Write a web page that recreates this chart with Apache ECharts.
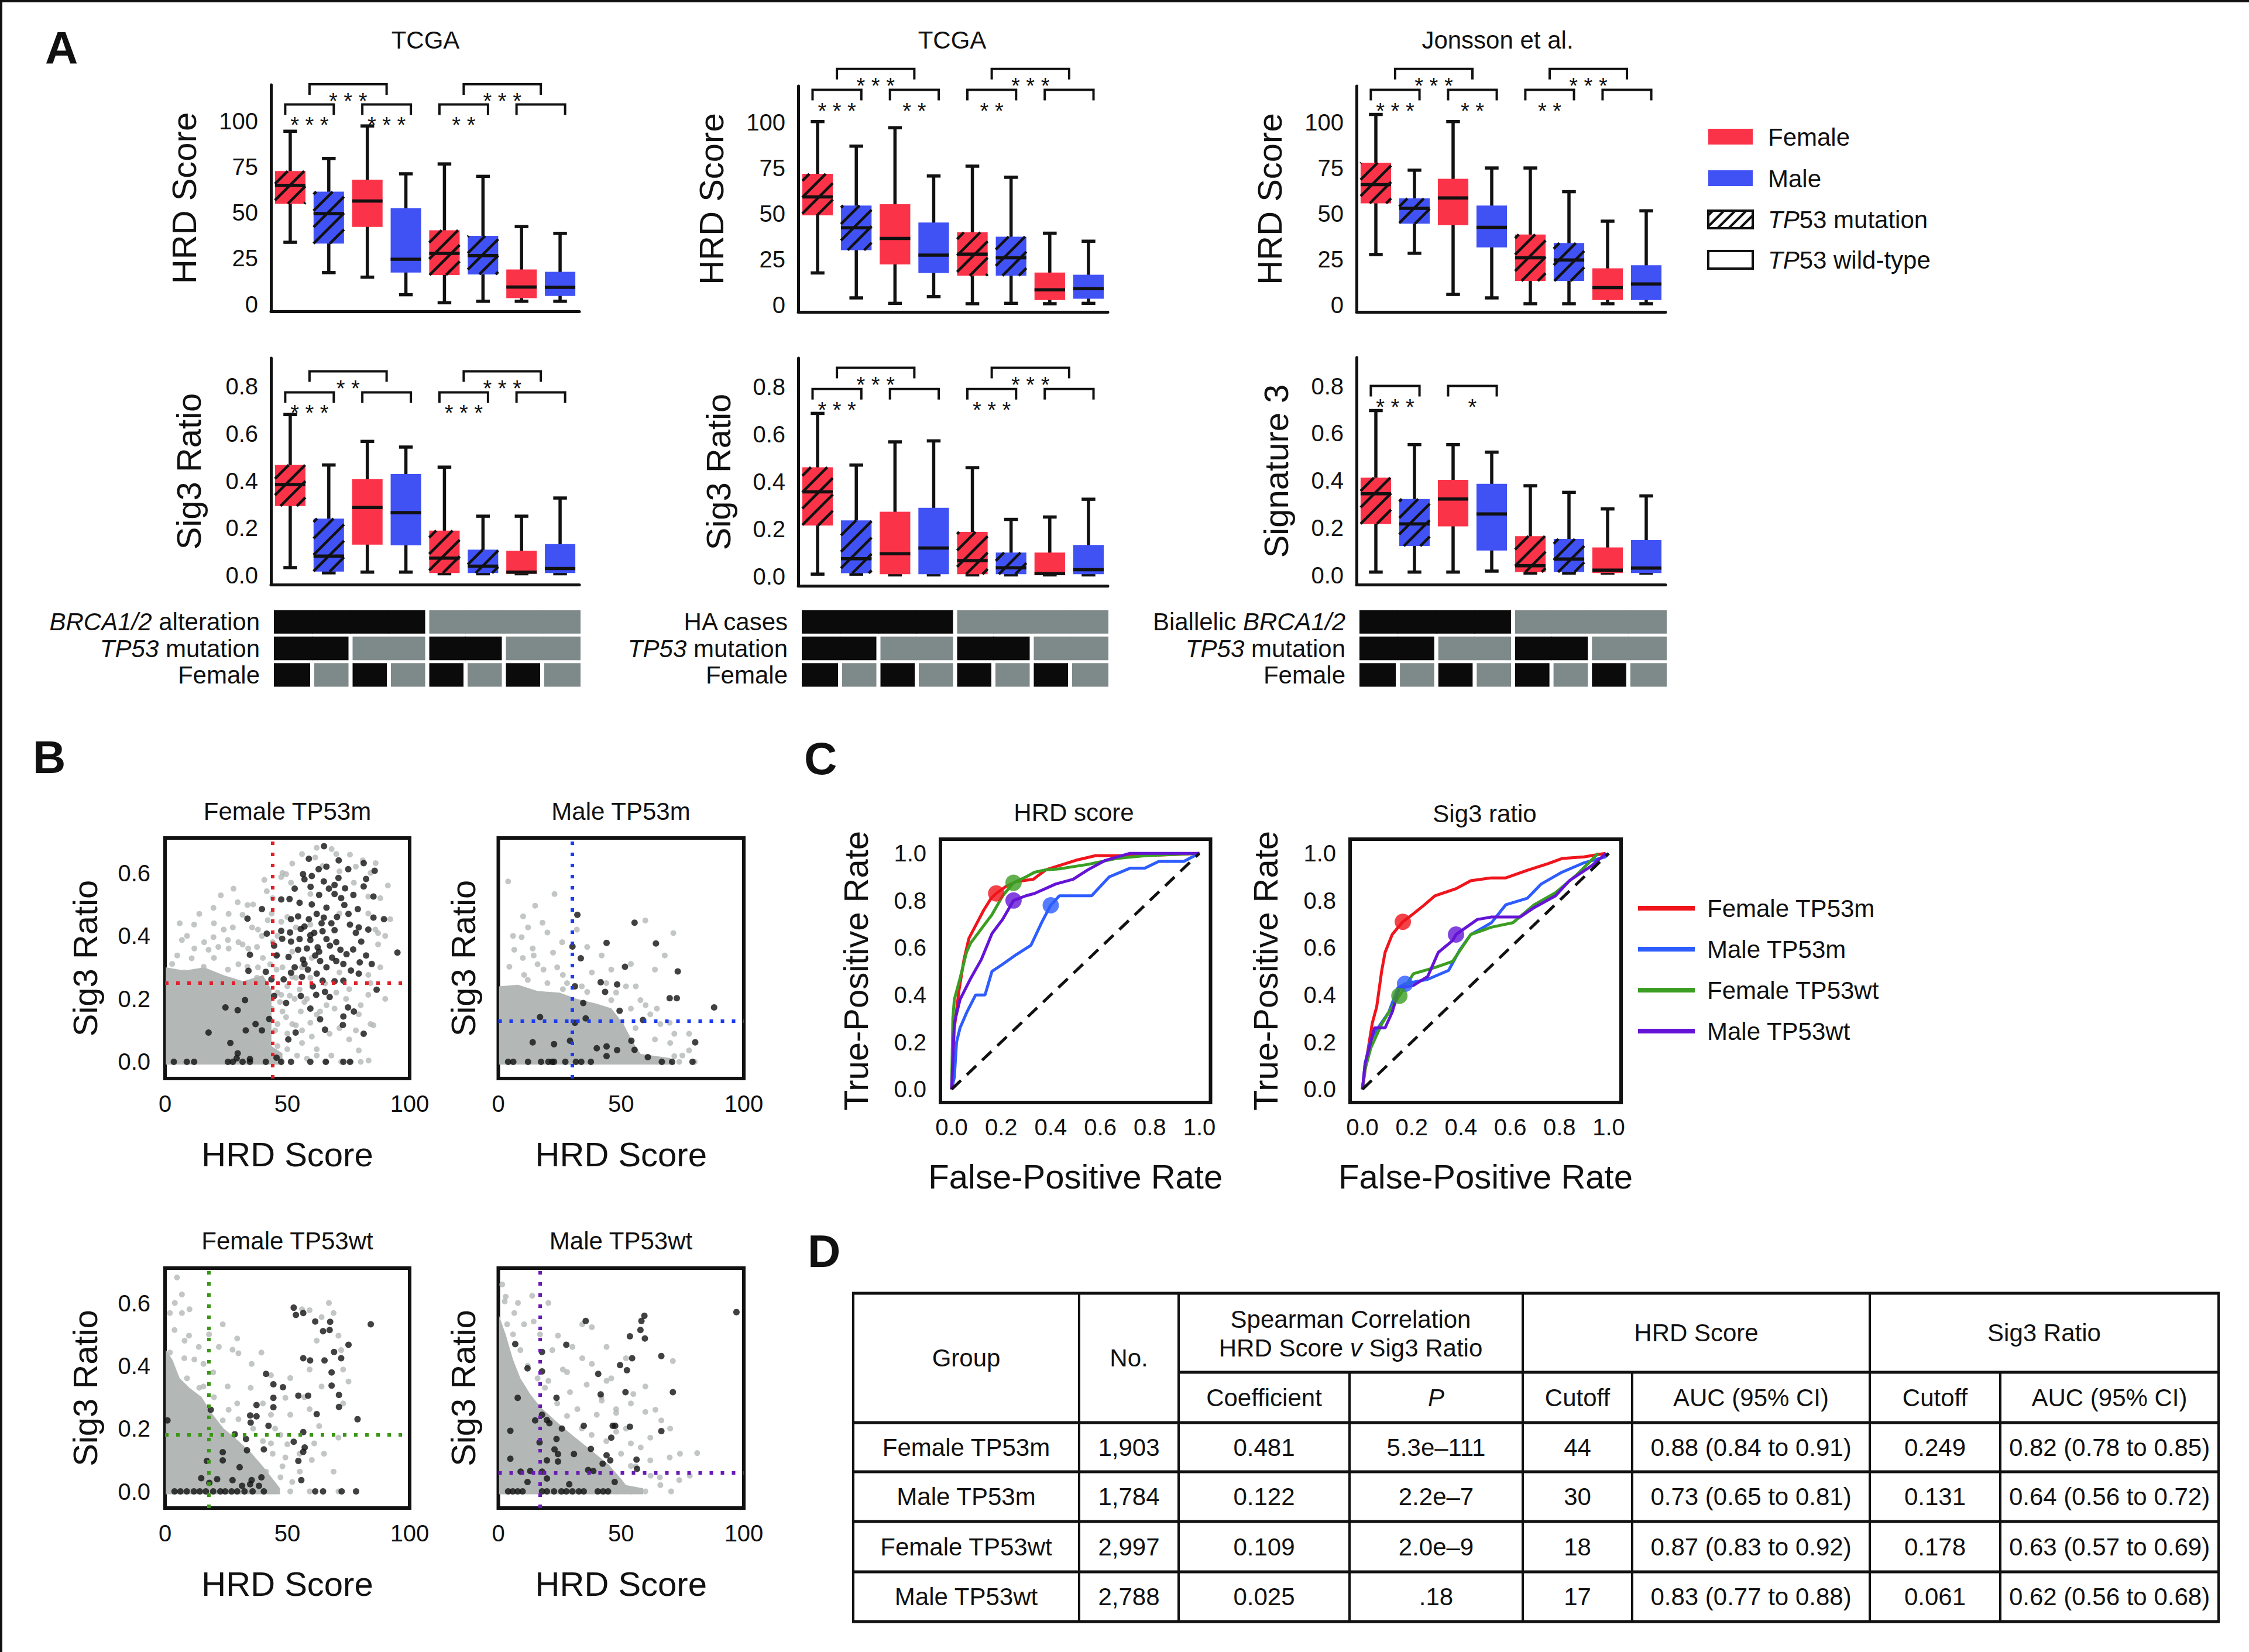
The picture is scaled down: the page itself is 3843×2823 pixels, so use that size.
<!DOCTYPE html>
<html>
<head>
<meta charset="utf-8">
<title>HRD score and Sig3 ratio by sex and TP53 status</title>
<script src="https://cdn.jsdelivr.net/npm/echarts@6.0.0/dist/echarts.min.js"></script>
<style>
html,body{margin:0;padding:0;background:#fff;}
#chart{width:3843px;height:2823px;}
</style>
</head>
<body>
<div id="chart"></div>
<script>
// ======================= DATA =======================
// ---- Panel A: groups (BRCA status x TP53 status x sex)
const boxCategories = ['BRCA+/TP53m/F','BRCA+/TP53m/M','BRCA+/TP53wt/F','BRCA+/TP53wt/M','BRCA-/TP53m/F','BRCA-/TP53m/M','BRCA-/TP53wt/F','BRCA-/TP53wt/M'];
const boxSex = ['F','M','F','M','F','M','F','M'];
const boxTP53 = ['m','m','wt','wt','m','m','wt','wt'];
// box stats: [lower whisker, Q1, median, Q3, upper whisker]
const tcgaHrdBoxes = [[33.8,54.9,65.0,72.8,94.6],[17.2,33.1,49.5,61.5,79.7],[14.7,42.2,56.4,68.1,97.5],[5.1,17.2,24.5,52.5,71.3],[0.7,15.9,27.7,40.4,76.7],[1.5,16.2,26.5,37.3,69.9],[1.5,3.2,9.3,18.9,42.4],[1.5,4.4,9.1,17.6,38.7]];
const tcgaSig3Boxes = [[0.032,0.293,0.384,0.467,0.681],[0.010,0.015,0.081,0.240,0.467],[0.013,0.129,0.287,0.407,0.567],[0.013,0.127,0.265,0.429,0.543],[0.006,0.009,0.072,0.189,0.458],[0.006,0.009,0.038,0.108,0.250],[0.006,0.006,0.013,0.104,0.250],[0.006,0.009,0.028,0.132,0.327]];
const haHrdBoxes = [[17.4,49.0,59.1,71.8,100.5],[3.7,29.9,42.2,54.4,87.0],[0.7,22.1,36.3,55.1,97.1],[4.4,17.4,27.2,45.1,70.6],[0.5,15.9,27.7,39.7,76.0],[0.7,15.9,25.7,37.3,69.9],[0.5,2.5,8.1,17.6,39.2],[0.7,3.2,8.8,16.4,34.8]];
const haSig3Boxes = [[0.009,0.214,0.356,0.460,0.687],[0.009,0.013,0.074,0.236,0.469],[0.006,0.009,0.095,0.272,0.567],[0.006,0.009,0.119,0.289,0.571],[0.006,0.009,0.066,0.187,0.458],[0.006,0.009,0.036,0.100,0.240],[0.006,0.006,0.011,0.100,0.250],[0.006,0.009,0.028,0.132,0.325]];
const jonHrdBoxes = [[27.5,55.6,65.9,77.9,104.4],[28.2,44.4,52.9,58.3,73.8],[5.6,43.6,58.6,69.1,100.5],[3.7,31.4,42.4,54.4,75.0],[0.5,13.0,25.7,38.5,75.0],[0.5,13.0,24.5,33.8,62.0],[0.5,2.5,9.3,19.9,45.8],[0.5,2.5,11.3,21.6,51.5]];
const jonSig3Boxes = [[0.013,0.217,0.344,0.412,0.696],[0.013,0.123,0.217,0.322,0.552],[0.013,0.206,0.322,0.403,0.552],[0.017,0.104,0.259,0.386,0.520],[0.009,0.013,0.040,0.165,0.378],[0.009,0.013,0.068,0.153,0.350],[0.009,0.009,0.021,0.117,0.280],[0.009,0.009,0.030,0.148,0.335]];
// significance brackets: [left, right (category units), top value]
const tcgaHrdBrackets = [[-0.13,1.13,109.3],[1.87,3.13,109.3],[0.5,2.5,120.3],[3.87,5.13,109.3],[4.5,6.5,120.3],[5.87,7.13,109.3]];
const tcgaHrdStars = ['***','***','***','**','***',''];
const tcgaSig3Brackets = [[-0.13,1.13,0.775],[1.87,3.13,0.775],[0.5,2.5,0.864],[3.87,5.13,0.775],[4.5,6.5,0.864],[5.87,7.13,0.775]];
const tcgaSig3Stars = ['***','','**','***','***',''];
const haHrdBrackets = [[-0.13,1.13,117.9],[1.87,3.13,117.9],[0.5,2.5,129.4],[3.87,5.13,117.9],[4.5,6.5,129.4],[5.87,7.13,117.9]];
const haHrdStars = ['***','**','***','**','***',''];
const haSig3Brackets = [[-0.13,1.13,0.790],[1.87,3.13,0.790],[0.5,2.5,0.879],[3.87,5.13,0.790],[4.5,6.5,0.879],[5.87,7.13,0.790]];
const haSig3Stars = ['***','','***','***','***',''];
const jonHrdBrackets = [[-0.13,1.13,117.9],[1.87,3.13,117.9],[0.5,2.5,129.4],[3.87,5.13,117.9],[4.5,6.5,129.4],[5.87,7.13,117.9]];
const jonHrdStars = ['***','**','***','**','***',''];
const jonSig3Brackets = [[-0.13,1.13,0.800],[1.87,3.13,0.800]];
const jonSig3Stars = ['***','*'];
// annotation rows (1 = yes / black, 0 = no / gray)
const annotBRCA = [1,1,1,1,0,0,0,0];
const annotTP53 = [1,1,0,0,1,1,0,0];
const annotFemale = [1,0,1,0,1,0,1,0];
const annotLabelsTCGA = ['{i|BRCA1/2} alteration','{i|TP53} mutation','Female'];
const annotLabelsHA = ['HA cases','{i|TP53} mutation','Female'];
const annotLabelsJon = ['Biallelic {i|BRCA1/2}','{i|TP53} mutation','Female'];

// ---- Panel B: scatter [HRD score, Sig3 ratio]
const fmBlack = [[65.0,0.685],[58.8,0.645],[62.8,0.612],[74.9,0.612],[81.2,0.631],[85.7,0.607],[56.4,0.596],[70.9,0.584],[82.2,0.581],[57.0,0.58],[64.9,0.573],[59.5,0.556],[69.3,0.562],[73.6,0.551],[81.2,0.557],[85.2,0.525],[47.5,0.516],[50.9,0.517],[55.0,0.505],[69.3,0.533],[73.3,0.498],[78.8,0.485],[39.6,0.485],[33.7,0.455],[51.5,0.453],[54.4,0.462],[58.8,0.453],[64.9,0.458],[70.3,0.46],[75.6,0.436],[85.2,0.458],[89.5,0.453],[41.6,0.407],[47.5,0.416],[51.1,0.411],[55.5,0.422],[59.4,0.402],[64.4,0.415],[69.3,0.418],[79.2,0.427],[83.1,0.42],[44.6,0.369],[47.9,0.391],[51.5,0.382],[54.4,0.356],[59.4,0.387],[62.4,0.364],[67.4,0.369],[71.7,0.356],[76.9,0.357],[80.2,0.382],[95.0,0.347],[34.7,0.34],[45.6,0.338],[50.5,0.333],[56.4,0.325],[61.4,0.338],[68.3,0.331],[74.2,0.342],[82.2,0.338],[57.0,0.311],[63.4,0.32],[72.9,0.311],[79.6,0.316],[84.5,0.311],[34.1,0.289],[41.2,0.286],[58.4,0.293],[51.5,0.283],[79.2,0.28],[43.5,0.262],[48.5,0.262],[64.4,0.258],[69.3,0.256],[72.9,0.258],[60.4,0.24],[86.5,0.229],[61.8,0.213],[65.4,0.222],[67.3,0.206],[55.5,0.209],[32.7,0.196],[44.6,0.209],[49.5,0.187],[24.7,0.173],[29.7,0.164],[59.4,0.169],[74.8,0.173],[77.2,0.16],[63.4,0.135],[72.9,0.144],[42.6,0.136],[37.0,0.12],[17.8,0.093],[33.0,0.1],[39.6,0.1],[65.4,0.102],[72.7,0.117],[81.2,0.089],[53.4,0.093],[50.4,0.071],[26.7,0.06],[29.7,0.027],[34.7,0.009],[29.3,0.011],[45.6,0.013],[3.6,0],[8.9,0],[11.9,0],[25.7,0],[27.7,0],[31.7,0],[34.7,0],[41.2,0],[47.5,0],[51.5,0],[59.4,0],[65.7,0],[72.9,0],[75.6,0],[60,0.5],[62,0.47],[66,0.49],[68,0.44],[57,0.43],[61,0.41],[66,0.39],[70,0.38],[63,0.35],[58,0.36],[53,0.3],[66,0.3],[70,0.32],[76,0.29],[62,0.28],[56,0.27],[72,0.52],[67,0.55],[63,0.53],[77,0.53],[60,0.59],[53,0.55],[75,0.47],[78,0.41],[66,0.62],[71,0.64],[55,0.39],[64,0.44]];
const fmGray = [[6.9,0.387],[11.9,0.436],[19.8,0.489],[22.8,0.529],[29.7,0.507],[31.7,0.467],[33.7,0.498],[19.8,0.396],[25.7,0.387],[17.8,0.356],[5.0,0.338],[2.9,0.311],[10.9,0.329],[27.7,0.427],[35.6,0.427],[31.7,0.373],[37.6,0.365],[39.6,0.4],[25.7,0.293],[33.7,0.302],[15.8,0.302],[7.9,0.284],[37.6,0.267],[40.6,0.249],[41.6,0.542],[40.6,0.578],[47.5,0.587],[49.5,0.596],[61.4,0.649],[68.1,0.676],[75.6,0.658],[80.8,0.64],[86.1,0.631],[91.1,0.56],[92.1,0.453],[64.4,0.622],[71.3,0.605],[77.2,0.569],[83.1,0.525],[51.5,0.569],[59.4,0.533],[43.6,0.471],[47.5,0.445],[53.5,0.427],[59.4,0.436],[71.3,0.471],[83.1,0.471],[87.1,0.409],[45.6,0.293],[53.5,0.267],[59.4,0.267],[71.3,0.284],[83.1,0.276],[87.1,0.373],[65.4,0.249],[75.3,0.231],[83.1,0.213],[47.5,0.213],[55.5,0.16],[69.3,0.169],[79.2,0.151],[85.2,0.116],[59.4,0.124],[71.3,0.107],[75.3,0.071],[79.2,0.036],[83.2,0.004],[67.3,0.089],[53.5,0.116],[43.6,0.169],[49.5,0.142],[63.4,0.16],[21.8,0.365],[48,0.6],[52,0.63],[56,0.66],[62,0.68],[70,0.66],[78,0.62],[84,0.6],[88,0.52],[86,0.42],[90,0.4],[88,0.3],[84,0.25],[90,0.2],[80,0.18],[84,0.12],[78,0.1],[74,0.2],[70,0.22],[66,0.18],[62,0.15],[57,0.19],[53,0.2],[50,0.24],[46,0.22],[48,0.3],[52,0.35],[46,0.4],[50,0.46],[44,0.52],[42,0.45],[38,0.42],[36,0.5],[28,0.55],[26,0.47],[24,0.42],[20,0.44],[16,0.38],[12,0.36],[9,0.4],[6,0.44],[14,0.47],[30,0.38],[34,0.36],[40,0.33],[43,0.31],[38,0.3],[30,0.31],[20,0.33],[26,0.36],[72,0],[76,0],[80,0],[68,0.02],[62,0.04],[56,0.06],[50,0.09],[46,0.12],[46,0.05],[50,0.04],[54,0.02],[58,0.01],[62,0.02],[66,0],[48,0.16],[52,0.12],[56,0.1],[60,0.08],[45,0.1],[47,0.19],[51,0.21],[55,0.23],[58,0.2],[52,0.27],[56,0.3],[60,0.33],[46,0.34],[44,0.38]];
const fmCore = [[0.3,-0.009],[0.3,0.30],[8,0.29],[16,0.30],[24,0.275],[32,0.256],[40,0.275],[43.5,0.23],[43.5,0.05],[48,0.027],[48,-0.009]];
const mmBlack = [[32.2,0.467],[55.5,0.442],[44.1,0.378],[64.2,0.376],[30.2,0.366],[33.6,0.329],[51.6,0.302],[73.1,0.287],[41.7,0.253],[48.4,0.246],[31.2,0.24],[43.5,0.222],[69.8,0.202],[72.7,0.202],[34.6,0.187],[87.9,0.173],[49.4,0.162],[35.6,0.138],[31.2,0.124],[58.9,0.133],[17.0,0.142],[29.2,0.067],[22.7,0.056],[14.0,0.062],[40.1,0.043],[44.1,0.049],[48.4,0.037],[54.2,0.067],[55.5,0.038],[80.2,0.062],[60.9,0.015],[44.1,0.018],[4.0,0],[6.1,0],[12.1,0],[17.4,0],[20.4,0],[21.9,0],[22.7,0],[27.3,0],[31.6,0],[33.8,0],[37.7,0],[66.6,0],[70.8,0],[79.1,0]];
const mmGray = [[4.0,0.573],[22.9,0.533],[15.0,0.496],[10.1,0.462],[18.0,0.442],[12.1,0.427],[9.5,0.396],[20.0,0.411],[59.9,0.449],[71.3,0.409],[6.5,0.356],[14.4,0.338],[22.3,0.347],[36.2,0.365],[42.1,0.338],[67.8,0.338],[4.5,0.302],[10.5,0.276],[18.4,0.293],[26.3,0.276],[38.1,0.284],[46.0,0.293],[54.0,0.311],[63.8,0.293],[26.3,0.231],[36.2,0.222],[46.0,0.196],[54.0,0.169],[61.9,0.151],[69.8,0.124],[77.7,0.089],[71.7,0.089],[77.7,0.036],[52.0,0.24],[57.9,0.196],[64.6,0.169],[40.1,0.169],[50.0,0.124],[55.9,0.107],[63.8,0.071],[71.7,0.018],[73.7,0],[10,0.33],[16,0.31],[24,0.3],[28,0.25],[34,0.24],[44,0.25],[48,0.22],[56,0.24],[60,0.18],[66,0.12],[70,0.06],[75,0.02],[80,0],[26,0.38],[32,0.42],[12,0.26],[20,0.25],[6,0.4],[14,0.36]];
const mmCore = [[0.3,-0.009],[0.3,0.24],[8,0.245],[16,0.225],[25,0.22],[32,0.2],[40,0.185],[46,0.17],[51,0.12],[55,0.06],[58,0.025],[70,0.012],[72,-0.009]];
const fwBlack = [[52.6,0.585],[53.5,0.562],[56.5,0.568],[61.4,0.541],[67.5,0.54],[64.6,0.51],[67.3,0.514],[84.1,0.532],[75.0,0.467],[69.1,0.444],[56.5,0.424],[59.3,0.417],[65.2,0.417],[72.0,0.424],[41.3,0.374],[68.1,0.379],[44.3,0.341],[48.2,0.332],[68.1,0.337],[54.5,0.305],[58.5,0.305],[44.3,0.298],[71.1,0.307],[37.4,0.275],[44.3,0.268],[71.1,0.269],[18.7,0.26],[34.8,0.242],[37.4,0.239],[62.0,0.246],[35.0,0.219],[42.3,0.209],[78.7,0.23],[1.0,0.226],[28.5,0.182],[56.5,0.189],[33.1,0.167],[52.6,0.158],[57.1,0.14],[56.5,0.126],[40.4,0.134],[33.5,0.131],[23.6,0.125],[23.6,0.099],[17.1,0.097],[30.5,0.077],[54.5,0.097],[14.8,0.042],[21.3,0.039],[27.6,0.036],[35.4,0.036],[39.4,0.045],[38.4,0.018],[34.8,0.023],[55.7,0.036],[31.5,0.018],[18.1,0.027],[3.9,0],[6.3,0],[8.9,0],[11.8,0],[14.2,0],[16.7,0],[19.7,0],[22.6,0],[24.6,0],[27.2,0],[29.5,0],[32.5,0],[35.8,0],[40.4,0],[61.4,0],[64.6,0],[72.2,0],[78.1,0]];
const fwGray = [[4.9,0.681],[6.9,0.627],[2.0,0.568],[6.9,0.568],[3.9,0.514],[9.8,0.496],[13.8,0.46],[2.0,0.442],[7.9,0.424],[15.7,0.406],[19.7,0.379],[23.6,0.532],[29.5,0.487],[27.6,0.451],[35.4,0.406],[39.4,0.442],[43.3,0.37],[51.2,0.361],[59.1,0.388],[64.0,0.555],[68.9,0.568],[59.1,0.577],[70.9,0.496],[72.8,0.388],[72.8,0.28],[64.0,0.334],[49.2,0.298],[25.6,0.334],[29.5,0.28],[23.6,0.226],[15.7,0.334],[11.8,0.28],[43.3,0.244],[51.2,0.244],[59.1,0.262],[63.0,0.208],[70.9,0.171],[47.2,0.18],[43.3,0.153],[49.2,0.108],[61.0,0.153],[68.9,0.063],[55.1,0.063],[47.2,0.045],[51.2,0],[59.1,0],[70.9,0],[41.3,0.063],[3,0.36],[9,0.36],[14,0.33],[20,0.3],[26,0.26],[30,0.23],[36,0.2],[40,0.16],[44,0.12],[48,0.08],[52,0.03],[45,0.2],[50,0.15],[55,0.12],[60,0.1],[65,0.12],[12,0.42],[18,0.5],[8,0.48],[4,0.6],[10,0.58],[22,0.46],[30,0.44],[35,0.33],[40,0.28],[57,0.3],[62,0.48],[67,0.6],[56,0.58],[72,0.45],[75,0.35]];
const fwCore = [[0.3,-0.009],[0.3,0.45],[3,0.42],[6,0.36],[10,0.33],[15,0.30],[19,0.25],[24,0.2],[28,0.175],[35,0.125],[40,0.08],[44,0.04],[47,0.01],[47,-0.009]];
const mwBlack = [[97.0,0.571],[59.5,0.559],[58.3,0.543],[35.6,0.543],[57.9,0.514],[53.6,0.494],[59.7,0.487],[6.9,0.469],[27.7,0.467],[17.8,0.444],[66.4,0.431],[54.5,0.424],[49.6,0.402],[52.4,0.386],[11.9,0.392],[17.8,0.382],[40.7,0.374],[51.8,0.316],[41.7,0.309],[71.1,0.316],[7.9,0.298],[23.7,0.298],[17.8,0.244],[15.0,0.226],[19.8,0.227],[20.8,0.217],[34.8,0.209],[25.9,0.2],[46.6,0.209],[47.6,0.209],[53.6,0.206],[66.4,0.192],[4.9,0.193],[16.8,0.156],[23.7,0.167],[46.0,0.171],[22.9,0.134],[24.3,0.119],[30.8,0.119],[37.7,0.135],[44.1,0.115],[45.6,0.099],[4.9,0.104],[19.8,0.099],[56.3,0.101],[24.3,0.095],[42.5,0.088],[36.6,0.068],[38.7,0.065],[56.5,0.072],[9.1,0.063],[13.0,0.065],[17.8,0.063],[19.8,0.041],[11.9,0.03],[47.4,0.03],[28.9,0.023],[4.0,0],[5.9,0],[7.9,0],[9.9,0],[17.8,0],[19.8,0],[22.7,0],[25.7,0],[27.7,0],[30.2,0],[32.8,0],[34.8,0],[40.5,0],[42.7,0],[44.7,0]];
const mwGray = [[1.6,0.659],[2.6,0.605],[13.8,0.623],[20.4,0.6],[14.4,0.541],[34.2,0.532],[38.1,0.523],[24.3,0.496],[30.2,0.46],[34.2,0.424],[38.1,0.406],[26.3,0.388],[20.4,0.352],[44.1,0.352],[54.0,0.28],[59.9,0.253],[66.4,0.226],[59.9,0.334],[71.1,0.415],[81.0,0.122],[69.8,0.108],[73.7,0.036],[70.4,0],[59.9,0],[54.0,0],[48.0,0],[29.2,0.316],[32.2,0.262],[40.1,0.244],[48.0,0.19],[54.0,0.153],[61.9,0.171],[61.9,0.099],[54.0,0.081],[65.8,0.045],[48.0,0.262],[44.1,0.46],[52.0,0.424],[42.1,0.289],[10.5,0.532],[6.5,0.568],[3.6,0.532],[6,0.5],[9,0.45],[12,0.4],[16,0.36],[19,0.33],[24,0.28],[28,0.24],[34,0.2],[38,0.18],[44,0.16],[50,0.12],[56,0.08],[62,0.05],[66,0.02],[3,0.62],[8,0.6],[17,0.5],[22,0.45],[28,0.38],[36,0.34],[42,0.3],[48,0.25],[52,0.2],[58,0.14],[46,0.36],[55,0.31],[64,0.26],[70,0.2],[74,0.12],[78,0.05]];
const mwCore = [[0.3,-0.009],[0.3,0.56],[3,0.5],[6,0.42],[9,0.36],[13,0.31],[17,0.27],[24,0.22],[30,0.18],[38,0.13],[45,0.085],[50,0.04],[52,0.02],[59,0.01],[59,-0.009]];

// ---- Panel C: ROC curves [false-positive rate, true-positive rate]
const rocNames = ['Female TP53m','Male TP53m','Female TP53wt','Male TP53wt'];
const rocHrdFemaleM = [[0,0],[0.01,0.25],[0.03,0.42],[0.05,0.55],[0.07,0.64],[0.1,0.70],[0.13,0.76],[0.16,0.81],[0.18,0.83],[0.22,0.86],[0.26,0.88],[0.33,0.89],[0.38,0.93],[0.44,0.95],[0.5,0.97],[0.58,0.99],[0.75,0.99],[0.9,0.995],[1,1]];
const rocHrdMaleM = [[0,0],[0.011,0.05],[0.02,0.2],[0.034,0.26],[0.063,0.33],[0.097,0.40],[0.135,0.40],[0.163,0.50],[0.206,0.53],[0.26,0.57],[0.32,0.61],[0.365,0.71],[0.40,0.78],[0.435,0.82],[0.565,0.82],[0.636,0.90],[0.72,0.937],[0.78,0.937],[0.836,0.966],[0.937,0.966],[1,1]];
const rocHrdFemaleWt = [[0,0],[0.005,0.3],[0.011,0.38],[0.034,0.47],[0.06,0.58],[0.077,0.62],[0.12,0.68],[0.163,0.74],[0.206,0.82],[0.25,0.875],[0.3,0.9],[0.335,0.92],[0.38,0.93],[0.435,0.934],[0.5,0.945],[0.55,0.953],[0.665,0.978],[0.78,0.99],[1,1]];
const rocHrdMaleWt = [[0,0],[0.011,0.28],[0.034,0.38],[0.077,0.47],[0.12,0.55],[0.163,0.66],[0.206,0.72],[0.25,0.80],[0.3,0.82],[0.335,0.83],[0.42,0.87],[0.49,0.89],[0.55,0.93],[0.62,0.97],[0.72,1.0],[1,1]];
const rocSigFemaleM = [[0,0],[0.02,0.15],[0.04,0.28],[0.058,0.35],[0.078,0.50],[0.092,0.58],[0.121,0.656],[0.164,0.71],[0.207,0.744],[0.25,0.78],[0.294,0.82],[0.38,0.85],[0.44,0.884],[0.524,0.896],[0.582,0.896],[0.67,0.928],[0.755,0.957],[0.81,0.978],[0.9,0.985],[0.986,1.0]];
const rocSigMaleM = [[0,0],[0.011,0.11],[0.034,0.21],[0.063,0.26],[0.107,0.327],[0.144,0.43],[0.173,0.447],[0.265,0.466],[0.35,0.504],[0.395,0.59],[0.44,0.656],[0.524,0.706],[0.582,0.782],[0.67,0.81],[0.726,0.87],[0.81,0.92],[0.9,0.96],[0.986,0.985],[1,1]];
const rocSigFemaleWt = [[0,0],[0.011,0.086],[0.034,0.175],[0.078,0.276],[0.121,0.35],[0.15,0.396],[0.207,0.49],[0.294,0.516],[0.366,0.542],[0.44,0.656],[0.524,0.687],[0.611,0.706],[0.697,0.782],[0.784,0.833],[0.87,0.909],[0.957,1.0]];
const rocSigMaleWt = [[0,0],[0.011,0.11],[0.049,0.26],[0.092,0.26],[0.121,0.327],[0.15,0.43],[0.207,0.44],[0.265,0.478],[0.308,0.58],[0.366,0.63],[0.38,0.656],[0.467,0.72],[0.524,0.73],[0.64,0.73],[0.697,0.77],[0.784,0.82],[0.84,0.884],[0.93,0.947],[0.99,1.0]];
const rocHrdCutPoints = [[0.18,0.83],[0.40,0.78],[0.25,0.875],[0.25,0.80]];
const rocSigCutPoints = [[0.164,0.71],[0.173,0.447],[0.15,0.396],[0.38,0.656]];

// ---- Panel D: table
const tblGroups = ['Female TP53m','Male TP53m','Female TP53wt','Male TP53wt'];
const tblN = ['1,903','1,784','2,997','2,788'];
const tblCoef = ['0.481','0.122','0.109','0.025'];
const tblP = ['5.3e\u2013111','2.2e\u20137','2.0e\u20139','.18'];
const tblHrdCut = [44,30,18,17];
const tblHrdAuc = ['0.88 (0.84 to 0.91)','0.73 (0.65 to 0.81)','0.87 (0.83 to 0.92)','0.83 (0.77 to 0.88)'];
const tblSigCut = [0.249,0.131,0.178,0.061];
const tblSigAuc = ['0.82 (0.78 to 0.85)','0.64 (0.56 to 0.72)','0.63 (0.57 to 0.69)','0.62 (0.56 to 0.68)'];

// ======================= STYLE / BUILD =======================
const FONT = "'Liberation Sans', Arial, Helvetica, sans-serif";
const INK = '#111111';
const RED = '#fb3349', BLUE = '#4152f5';
const GRAYPT = '#b3b8b7';
const ANN_BLACK = '#0b0b0b', ANN_GRAY = '#7e8a89';
const rocColors = ['#f0141c','#2d5cff','#3b9e22','#6414d6'];
const cutColors = ['#e0202a','#1d3cf0','#3c9616','#6a1ab5'];

function hatch(x0, y0, x1, y1, step, lw) {
  const out = [];
  const c0 = Math.ceil((x0 + y0) / step) * step;
  for (let c = c0; c <= x1 + y1; c += step) {
    const ya = Math.min(y1, c - x0), yb = Math.max(y0, c - x1);
    if (ya - yb < 1) continue;
    out.push({type:'line', shape:{x1:c - ya, y1:ya, x2:c - yb, y2:yb}, style:{stroke:INK, lineWidth:lw}});
  }
  return out;
}

function boxRender(stats) {
  return function (params, api) {
    const k = params.dataIndex, s = stats[k];
    const band = api.size([1, 0])[0];
    const bw = band * 0.79, cw = bw * 0.45;
    const lo = api.coord([k, s[0]]), q1 = api.coord([k, s[1]]), md = api.coord([k, s[2]]), q3 = api.coord([k, s[3]]), hi = api.coord([k, s[4]]);
    const x = lo[0];
    const ls = {stroke:INK, lineWidth:5.5};
    const ch = [
      {type:'line', shape:{x1:x, y1:hi[1], x2:x, y2:lo[1]}, style:ls},
      {type:'line', shape:{x1:x - cw/2, y1:hi[1], x2:x + cw/2, y2:hi[1]}, style:ls},
      {type:'line', shape:{x1:x - cw/2, y1:lo[1], x2:x + cw/2, y2:lo[1]}, style:ls}
    ];
    const bx0 = x - bw/2, by0 = q3[1], by1 = Math.max(q1[1], q3[1] + 1);
    ch.push({type:'rect', shape:{x:bx0, y:by0, width:bw, height:by1 - by0}, style:{fill: boxSex[k] === 'F' ? RED : BLUE}});
    if (boxTP53[k] === 'm') hatch(bx0, by0, bx0 + bw, by1, 28, 4.5).forEach(e => ch.push(e));
    ch.push({type:'line', shape:{x1:bx0, y1:md[1], x2:bx0 + bw, y2:md[1]}, style:{stroke:INK, lineWidth:5.5}});
    return {type:'group', children:ch};
  };
}

function bracketRender(br, stars) {
  return function (params, api) {
    const b = br[params.dataIndex];
    const band = api.size([1, 0])[0];
    const p = api.coord([0, b[2]]);
    const x1 = p[0] + b[0] * band, x2 = p[0] + b[1] * band, y = p[1];
    const upper = Math.abs(b[0] % 1) === 0.5;
    const ch = [{type:'polyline', shape:{points:[[x1, y + 18], [x1, y], [x2, y], [x2, y + 18]]}, style:{stroke:INK, lineWidth:4, fill:null}}];
    const s = stars[params.dataIndex];
    if (s) ch.push({type:'text', style:{text:s.split('').join(' '), x:(x1 + x2)/2, y:y + (upper ? 29 : 36), align:'center', verticalAlign:'middle', textAlign:'center', textVerticalAlign:'middle', fontSize:38, fontFamily:FONT, fill:INK}});
    return {type:'group', children:ch};
  };
}

function annotRender(rows) {
  return function (params, api) {
    const k = api.value(0), r = api.value(1), v = api.value(2);
    const row = rows[r];
    const c = api.coord([k, r]);
    const sz = api.size([1, 1]);
    const gap = 7;
    const sameL = k > 0 && row[k - 1] === row[k];
    const sameR = k < row.length - 1 && row[k + 1] === row[k];
    const x0 = c[0] - sz[0]/2 + (k === 0 ? 0 : (sameL ? -0.6 : gap/2));
    const x1 = c[0] + sz[0]/2 - (k === row.length - 1 ? 0 : (sameR ? -0.6 : gap/2));
    const h = sz[1] - 5;
    return {type:'rect', shape:{x:x0, y:c[1] - h/2, width:x1 - x0, height:h}, style:{fill: v ? ANN_BLACK : ANN_GRAY}};
  };
}

function polyRender(pts) {
  return function (params, api) {
    if (params.dataIndex !== 0) return null;
    return {type:'polygon', shape:{points:pts.map(p => api.coord(p))}, style:{fill:GRAYPT}};
  };
}

// ---- grids [left, top, width, height]
const gridRects = [
  [463,145,527,387],[1364,147,529,386],[2318,147,528,386],
  [463,612,527,387],[1364,612,529,389],[2318,611,528,388],
  [468,1040,524,136],[1370,1040,524,136],[2323,1040,525,136],
  [282,1432,418,411],[851.5,1432,419.5,411],[282,2167,418,410],[851.5,2167,419.5,410],
  [1607,1434,461.5,450],[2307,1434,463,450]
];
const grid = gridRects.map((g, i) => ({left:g[0], top:g[1], width:g[2], height:g[3], show: i >= 9, borderColor:INK, borderWidth:6, backgroundColor:'transparent'}));

const xAxis = [], yAxis = [];
const axisLineBlack = {show:true, onZero:false, lineStyle:{color:INK, width:5}};
const labelBase = {fontSize:40, fontFamily:FONT, color:INK};
const bigName = {fontSize:58, fontFamily:FONT, color:INK};
// box plot axes 0..5
const boxYNames = ['HRD Score','HRD Score','HRD Score','Sig3 Ratio','Sig3 Ratio','Signature 3'];
const boxYGaps = [120,120,120,112,108,109];
for (let i = 0; i < 6; i++) {
  xAxis.push({gridIndex:i, type:'category', data:boxCategories, axisLine:axisLineBlack, axisTick:{show:false}, axisLabel:{show:false}, splitLine:{show:false}});
  const hrd = i < 3;
  yAxis.push({gridIndex:i, type:'value', min: hrd ? -4 : -0.04, max: hrd ? 120 : 0.92,
    axisLine:axisLineBlack, axisTick:{show:false}, splitLine:{show:false},
    axisLabel:Object.assign({margin:22, customValues: hrd ? [0,25,50,75,100] : [0,0.2,0.4,0.6,0.8], formatter: hrd ? (v => String(v)) : (v => v.toFixed(1))}, labelBase),
    name:boxYNames[i], nameLocation:'middle', nameGap:boxYGaps[i], nameTextStyle:bigName});
}
// annotation axes 6..8
const annotLabelSets = [annotLabelsTCGA, annotLabelsHA, annotLabelsJon];
for (let i = 0; i < 3; i++) {
  const labels = annotLabelSets[i];
  xAxis.push({gridIndex:6 + i, type:'category', data:boxCategories, show:false});
  yAxis.push({gridIndex:6 + i, type:'category', data:['row0','row1','row2'], inverse:true, axisLine:{show:false}, axisTick:{show:false}, splitLine:{show:false},
    axisLabel:{interval:0, margin:24, fontSize:42, fontFamily:FONT, color:INK, formatter:(v, idx) => labels[idx], rich:{i:{fontStyle:'italic', fontSize:42, fontFamily:FONT, color:INK}}}});
}
// scatter axes 9..12
for (let i = 0; i < 4; i++) {
  const showY = (i % 2 === 0);
  xAxis.push({gridIndex:9 + i, type:'value', min:0, max:100, axisLine:{show:false}, axisTick:{show:false}, splitLine:{show:false},
    axisLabel:Object.assign({margin:23, customValues:[0,50,100]}, labelBase), name:'HRD Score', nameLocation:'middle', nameGap:100, nameTextStyle:bigName});
  yAxis.push({gridIndex:9 + i, type:'value', min:-0.053, max:0.711, axisLine:{show:false}, axisTick:{show:false}, splitLine:{show:false},
    axisLabel:Object.assign({show:showY, margin:25, customValues:[0,0.2,0.4,0.6], formatter:v => v.toFixed(1)}, labelBase),
    name:'Sig3 Ratio', nameLocation:'middle', nameGap: showY ? 108 : 31, nameTextStyle:bigName});
}
// ROC axes 13..14
const rocX = [[-0.045,1.045],[-0.05,1.05]];
for (let i = 0; i < 2; i++) {
  xAxis.push({gridIndex:13 + i, type:'value', min:rocX[i][0], max:rocX[i][1], axisLine:{show:false}, axisTick:{show:false}, splitLine:{show:false},
    axisLabel:Object.assign({margin:22, customValues:[0,0.2,0.4,0.6,0.8,1.0], formatter:v => v.toFixed(1)}, labelBase),
    name:'False-Positive Rate', nameLocation:'middle', nameGap:97, nameTextStyle:bigName});
  yAxis.push({gridIndex:13 + i, type:'value', min:-0.056, max:1.06, axisLine:{show:false}, axisTick:{show:false}, splitLine:{show:false},
    axisLabel:Object.assign({margin:24, customValues:[0,0.2,0.4,0.6,0.8,1.0], formatter:v => v.toFixed(1)}, labelBase),
    name:'True-Positive Rate', nameLocation:'middle', nameGap:116, nameTextStyle:bigName});
}

const series = [];
// --- box plots + brackets
const boxSets = [
  [tcgaHrdBoxes, tcgaHrdBrackets, tcgaHrdStars, 'TCGA HRD score'],
  [haHrdBoxes, haHrdBrackets, haHrdStars, 'TCGA HA HRD score'],
  [jonHrdBoxes, jonHrdBrackets, jonHrdStars, 'Jonsson HRD score'],
  [tcgaSig3Boxes, tcgaSig3Brackets, tcgaSig3Stars, 'TCGA Sig3 ratio'],
  [haSig3Boxes, haSig3Brackets, haSig3Stars, 'TCGA HA Sig3 ratio'],
  [jonSig3Boxes, jonSig3Brackets, jonSig3Stars, 'Jonsson Signature 3']
];
boxSets.forEach((set, i) => {
  const [stats, br, stars, nm] = set;
  series.push({type:'custom', name:nm, xAxisIndex:i, yAxisIndex:i, silent:true, clip:false, z:3,
    data:stats.map((s, k) => [k, s[0], s[4]]), encode:{x:0, y:[1,2]}, renderItem:boxRender(stats)});
  series.push({type:'custom', name:nm + ' significance', xAxisIndex:i, yAxisIndex:i, silent:true, clip:false, z:3,
    data:br.map(b => [0, b[2]]), encode:{x:0, y:1}, renderItem:bracketRender(br, stars)});
});
// --- annotation tracks
const annotRows = [annotBRCA, annotTP53, annotFemale];
for (let i = 0; i < 3; i++) {
  const data = [];
  annotRows.forEach((row, r) => row.forEach((v, k) => data.push([k, r, v])));
  series.push({type:'custom', name:'annotation ' + i, xAxisIndex:6 + i, yAxisIndex:6 + i, silent:true, data, encode:{x:0, y:1}, renderItem:annotRender(annotRows)});
}
// --- scatter plots
const scatterSets = [
  [fmBlack, fmGray, fmCore], [mmBlack, mmGray, mmCore], [fwBlack, fwGray, fwCore], [mwBlack, mwGray, mwCore]
];
scatterSets.forEach((set, i) => {
  const g = 9 + i;
  series.push({type:'custom', name:rocNames[i] + ' dense', xAxisIndex:g, yAxisIndex:g, silent:true, z:1, data:set[2], encode:{x:0, y:1}, renderItem:polyRender(set[2])});
  series.push({type:'scatter', name:rocNames[i] + ' all', xAxisIndex:g, yAxisIndex:g, silent:true, z:2, symbolSize:10, itemStyle:{color:GRAYPT}, data:set[1],
    markLine:{silent:true, symbol:['none','none'], label:{show:false}, animation:false,
      lineStyle:{color:cutColors[i], width:6, type:[6,13]},
      data:[{xAxis:tblHrdCut[i]}, {yAxis:tblSigCut[i]}]}});
  series.push({type:'scatter', name:rocNames[i] + ' BRCA', xAxisIndex:g, yAxisIndex:g, silent:true, z:3, symbolSize:11, itemStyle:{color:INK}, data:set[0]});
});
// --- ROC
const rocHrd = [rocHrdFemaleM, rocHrdMaleM, rocHrdFemaleWt, rocHrdMaleWt];
const rocSig = [rocSigFemaleM, rocSigMaleM, rocSigFemaleWt, rocSigMaleWt];
[[rocHrd, rocHrdCutPoints], [rocSig, rocSigCutPoints]].forEach((set, j) => {
  const g = 13 + j;
  set[0].forEach((curve, i) => {
    const s = {type:'line', name:rocNames[i], xAxisIndex:g, yAxisIndex:g, data:curve, showSymbol:false, silent:true, z:3,
      lineStyle:{color:rocColors[i], width:5}, itemStyle:{color:rocColors[i]}};
    if (i === 0) s.markLine = {silent:true, symbol:['none','none'], label:{show:false}, animation:false,
      lineStyle:{color:INK, width:5, type:[22,14]}, data:[[{coord:[0,0]}, {coord:[1,1]}]]};
    series.push(s);
  });
  set[1].forEach((pt, i) => {
    series.push({type:'scatter', name:rocNames[i] + ' cutoff', xAxisIndex:g, yAxisIndex:g, silent:true, z:4, symbolSize:28, itemStyle:{color:rocColors[i]}, data:[pt]});
  });
});

// --- graphic: titles, panel letters, legend A, table D
function T(text, x, y, size, extra) {
  return {type:'text', silent:true, style:Object.assign({text, x, y, fill:INK, fontSize:size, fontFamily:FONT,
    align:'center', verticalAlign:'middle', textAlign:'center', textVerticalAlign:'middle'}, extra || {})};
}
function L(x1, y1, x2, y2, w) {
  return {type:'line', silent:true, shape:{x1, y1, x2, y2}, style:{stroke:INK, lineWidth:w || 4}};
}
const G = [];
G.push(L(0, 2, 3843, 2, 4), L(2, 0, 2, 2823, 4));
// panel letters
[['A',77,82],['B',56,1294],['C',1374,1296],['D',1380,2138]].forEach(a => G.push(T(a[0], a[1], a[2], 78, {fontWeight:'bold', align:'left', textAlign:'left'})));
// plot titles
G.push(T('TCGA', 727, 68, 42), T('TCGA', 1627, 68, 42), T('Jonsson et al.', 2559, 68, 42));
G.push(T('Female TP53m', 491, 1386, 42), T('Male TP53m', 1061, 1386, 42), T('Female TP53wt', 491, 2120, 42), T('Male TP53wt', 1061, 2120, 42));
G.push(T('HRD score', 1835, 1388, 42), T('Sig3 ratio', 2537, 1390, 42));
// legend A
const richI = {i:{fontStyle:'italic', fontSize:42, fontFamily:FONT, fill:INK, color:INK}};
G.push({type:'rect', silent:true, shape:{x:2919, y:220, width:76, height:27}, style:{fill:RED}});
G.push({type:'rect', silent:true, shape:{x:2919, y:291, width:76, height:27}, style:{fill:BLUE}});
G.push({type:'rect', silent:true, shape:{x:2919, y:360, width:76, height:30}, style:{fill:'#fff', stroke:INK, lineWidth:4}});
hatch(2919, 360, 2995, 390, 19, 4).forEach(e => { e.silent = true; G.push(e); });
G.push({type:'rect', silent:true, shape:{x:2919, y:429, width:76, height:30}, style:{fill:'none', stroke:INK, lineWidth:4}});
G.push(T('Female', 3021, 234, 42, {align:'left', textAlign:'left'}));
G.push(T('Male', 3021, 305, 42, {align:'left', textAlign:'left'}));
G.push(T('{i|TP}53 mutation', 3021, 375, 42, {align:'left', textAlign:'left', rich:richI}));
G.push(T('{i|TP}53 wild-type', 3021, 444, 42, {align:'left', textAlign:'left', rich:richI}));
// table D
const cx = [1458, 1844, 2014, 2306, 2602, 2789, 3195, 3418, 3791];
const ry = [2210, 2345, 2431, 2515, 2600, 2686, 2771];
[ry[0], ry[2], ry[3], ry[4], ry[5], ry[6]].forEach(y => G.push(L(cx[0] - 2, y, cx[8] + 2, y, 5)));
G.push(L(cx[2], ry[1], cx[8], ry[1], 5));
[cx[0], cx[1], cx[2], cx[4], cx[6], cx[8]].forEach(x => G.push(L(x, ry[0], x, ry[6], 4)));
[cx[3], cx[5], cx[7]].forEach(x => G.push(L(x, ry[1], x, ry[6], 4)));
const mid = (a, b) => (a + b) / 2;
const TF = 42;
G.push(T('Group', mid(cx[0], cx[1]), mid(ry[0], ry[2]), TF));
G.push(T('No.', mid(cx[1], cx[2]), mid(ry[0], ry[2]), TF));
G.push(T('Spearman Correlation', mid(cx[2], cx[4]), 2254, TF));
G.push(T('HRD Score {i|v} Sig3 Ratio', mid(cx[2], cx[4]), 2303, TF, {rich:richI}));
G.push(T('HRD Score', mid(cx[4], cx[6]), mid(ry[0], ry[1]), TF));
G.push(T('Sig3 Ratio', mid(cx[6], cx[8]), mid(ry[0], ry[1]), TF));
const subHead = ['Coefficient', '{i|P}', 'Cutoff', 'AUC (95% CI)', 'Cutoff', 'AUC (95% CI)'];
subHead.forEach((s, k) => G.push(T(s, mid(cx[k + 2], cx[k + 3]), mid(ry[1], ry[2]), TF, {rich:richI})));
tblGroups.forEach((g, r) => {
  const y = mid(ry[r + 2], ry[r + 3]);
  const cells = [g, tblN[r], tblCoef[r], tblP[r], String(tblHrdCut[r]), tblHrdAuc[r], tblSigCut[r].toFixed(3), tblSigAuc[r]];
  cells.forEach((t, k) => G.push(T(t, mid(cx[k], cx[k + 1]), y, TF)));
});

const option = {
  backgroundColor:'#ffffff',
  animation:false,
  textStyle:{fontFamily:FONT},
  grid, xAxis, yAxis, series,
  legend:{data:rocNames, orient:'vertical', left:2794, top:1526, itemWidth:97, itemHeight:8, itemGap:28, icon:'rect', selectedMode:false,
    textStyle:{fontSize:42, fontFamily:FONT, color:INK, padding:[0,0,0,16]}},
  graphic:{elements:G}
};
const chart = echarts.init(document.getElementById('chart'), null, {renderer:'svg', width:3843, height:2823});
chart.setOption(option);
</script>
</body>
</html>
